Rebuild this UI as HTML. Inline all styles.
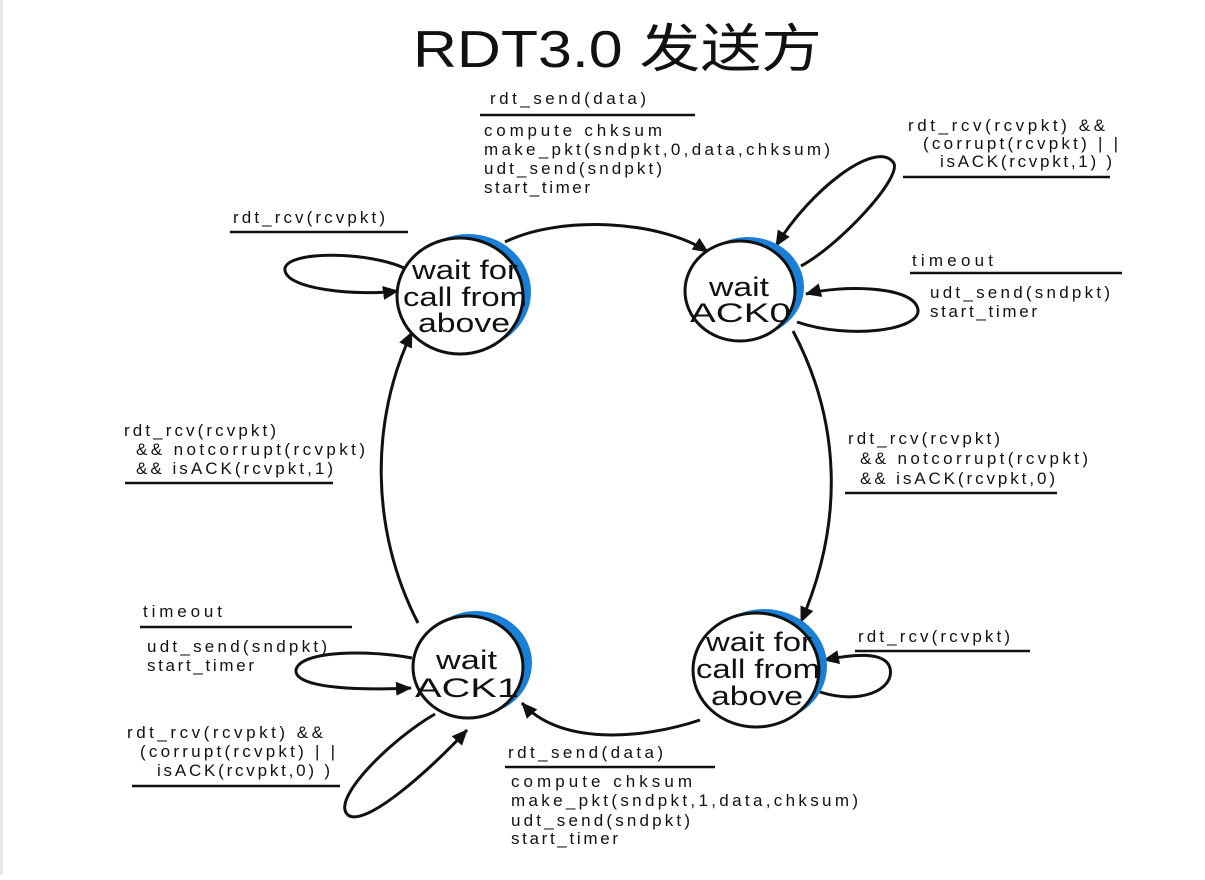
<!DOCTYPE html>
<html><head><meta charset="utf-8"><style>
html,body{margin:0;padding:0;background:#fff;}
body{width:1205px;height:875px;overflow:hidden;position:relative;}
.bar{position:absolute;left:0;top:0;width:3px;height:875px;background:#e6e6e6;}
svg text{font-family:"Liberation Sans","Noto Sans CJK SC",sans-serif;fill:#111;}
</style></head><body>
<div class="bar"></div>
<svg width="1205" height="875" viewBox="0 0 1205 875" xmlns="http://www.w3.org/2000/svg">
<defs>
<marker id="a" markerWidth="10" markerHeight="10" refX="9" refY="5" orient="auto" markerUnits="userSpaceOnUse" viewBox="0 0 10 10">
<path d="M0,0 L10,5 L0,10 z" fill="#111"/></marker>
<marker id="b" markerWidth="16" markerHeight="14" refX="15" refY="7" orient="auto" markerUnits="userSpaceOnUse" viewBox="0 0 16 14">
<path d="M0,0 L16,7 L0,14 z" fill="#111"/></marker>
</defs>

<text x="413" y="67" font-size="52" textLength="409" lengthAdjust="spacingAndGlyphs">RDT3.0 发送方</text>

<g fill="none" stroke="#111" stroke-width="3">
<!-- top arc -->
<path d="M505,242 C560,215 660,220 708,252" marker-end="url(#b)"/>
<!-- state1 self loop -->
<path d="M404,268 C370,252 290,250 285,268 C282,290 360,296 398,291" marker-end="url(#b)"/>
<!-- ACK0 top loop -->
<path d="M801,266 C840,245 905,175 893,162 C875,140 810,190 776,246" marker-end="url(#b)"/>
<!-- ACK0 timeout loop -->
<path d="M797,322 C850,340 920,330 918,310 C915,285 840,285 806,294" marker-end="url(#b)"/>
<!-- right arc -->
<path d="M793,331 C840,420 845,520 801,622" marker-end="url(#b)"/>
<!-- bottom arc -->
<path d="M700,720 C640,740 560,745 522,703" marker-end="url(#b)"/>
<!-- left arc -->
<path d="M418,623 C370,530 370,420 412,332" marker-end="url(#b)"/>
<!-- ACK1 timeout loop -->
<path d="M412,658 C370,650 300,650 296,670 C294,690 370,690 411,688" marker-end="url(#b)"/>
<!-- ACK1 bottom loop -->
<path d="M435,714 C390,740 330,800 348,815 C365,828 430,770 467,730" marker-end="url(#b)"/>
<!-- bottom-right loop -->
<path d="M820,692 C860,705 895,690 890,668 C885,650 850,655 824,660" marker-end="url(#b)"/>
</g>

<!-- states -->
<g stroke="#111" stroke-width="3">
<ellipse cx="468" cy="292" rx="63" ry="58" fill="#1a7fd6" stroke="none"/>
<ellipse cx="460" cy="296" rx="63" ry="58" fill="#fff"/>
<ellipse cx="748" cy="287" rx="56" ry="50" fill="#1a7fd6" stroke="none"/>
<ellipse cx="740" cy="291" rx="55" ry="50" fill="#fff"/>
<ellipse cx="764" cy="666" rx="63" ry="57" fill="#1a7fd6" stroke="none"/>
<ellipse cx="756" cy="670" rx="63" ry="57" fill="#fff"/>
<ellipse cx="476" cy="663" rx="56" ry="52" fill="#1a7fd6" stroke="none"/>
<ellipse cx="468" cy="667" rx="55" ry="51" fill="#fff"/>
</g>

<g font-size="27">
<text x="412" y="279" textLength="106" lengthAdjust="spacingAndGlyphs">wait for</text>
<text x="403" y="306" textLength="124" lengthAdjust="spacingAndGlyphs">call from</text>
<text x="418" y="332" textLength="92" lengthAdjust="spacingAndGlyphs">above</text>
<text x="709" y="296" textLength="60" lengthAdjust="spacingAndGlyphs">wait</text>
<text x="690" y="322" textLength="101" lengthAdjust="spacingAndGlyphs">ACK0</text>
<text x="436" y="669" textLength="61" lengthAdjust="spacingAndGlyphs">wait</text>
<text x="415" y="697" textLength="104" lengthAdjust="spacingAndGlyphs">ACK1</text>
<text x="706" y="651" textLength="106" lengthAdjust="spacingAndGlyphs">wait for</text>
<text x="696" y="678" textLength="124" lengthAdjust="spacingAndGlyphs">call from</text>
<text x="711" y="705" textLength="92" lengthAdjust="spacingAndGlyphs">above</text>
</g>

<!-- label rules -->
<g stroke="#111" stroke-width="2.5">
<line x1="480" y1="115" x2="695" y2="115"/>
<line x1="903" y1="177" x2="1110" y2="177"/>
<line x1="910" y1="273" x2="1122" y2="273"/>
<line x1="230" y1="232" x2="408" y2="232"/>
<line x1="125" y1="483" x2="333" y2="483"/>
<line x1="845" y1="493" x2="1057" y2="493"/>
<line x1="140" y1="627" x2="352" y2="627"/>
<line x1="855" y1="651" x2="1030" y2="651"/>
<line x1="132" y1="786" x2="340" y2="786"/>
<line x1="505" y1="767" x2="715" y2="767"/>
</g>

<g font-size="17" lengthAdjust="spacingAndGlyphs">
<text x="490" y="104" textLength="156">rdt_send(data)</text>
<text x="484" y="136" textLength="178">compute chksum</text>
<text x="484" y="155" textLength="346">make_pkt(sndpkt,0,data,chksum)</text>
<text x="484" y="174" textLength="178">udt_send(sndpkt)</text>
<text x="484" y="193" textLength="106">start_timer</text>

<text x="908" y="131" textLength="197">rdt_rcv(rcvpkt)  &amp;&amp;</text>
<text x="923" y="149" textLength="195">(corrupt(rcvpkt)  | |</text>
<text x="940" y="167" textLength="172">isACK(rcvpkt,1) )</text>

<text x="912" y="266" textLength="81">timeout</text>
<text x="930" y="298" textLength="180">udt_send(sndpkt)</text>
<text x="930" y="317" textLength="107">start_timer</text>

<text x="233" y="223" textLength="152">rdt_rcv(rcvpkt)</text>

<text x="124" y="436" textLength="152">rdt_rcv(rcvpkt)</text>
<text x="136" y="455" textLength="229">&amp;&amp; notcorrupt(rcvpkt)</text>
<text x="136" y="474" textLength="197">&amp;&amp; isACK(rcvpkt,1)</text>

<text x="848" y="444" textLength="152">rdt_rcv(rcvpkt)</text>
<text x="860" y="464" textLength="228">&amp;&amp; notcorrupt(rcvpkt)</text>
<text x="860" y="484" textLength="195">&amp;&amp; isACK(rcvpkt,0)</text>

<text x="143" y="617" textLength="79">timeout</text>
<text x="147" y="652" textLength="180">udt_send(sndpkt)</text>
<text x="147" y="671" textLength="107">start_timer</text>

<text x="858" y="642" textLength="152">rdt_rcv(rcvpkt)</text>

<text x="127" y="738" textLength="196">rdt_rcv(rcvpkt)  &amp;&amp;</text>
<text x="140" y="757" textLength="195">(corrupt(rcvpkt)  | |</text>
<text x="157" y="776" textLength="173">isACK(rcvpkt,0) )</text>

<text x="508" y="758" textLength="155">rdt_send(data)</text>
<text x="511" y="787" textLength="181">compute chksum</text>
<text x="511" y="806" textLength="347">make_pkt(sndpkt,1,data,chksum)</text>
<text x="511" y="826" textLength="179">udt_send(sndpkt)</text>
<text x="511" y="844" textLength="107">start_timer</text>
</g>
</svg>
</body></html>
